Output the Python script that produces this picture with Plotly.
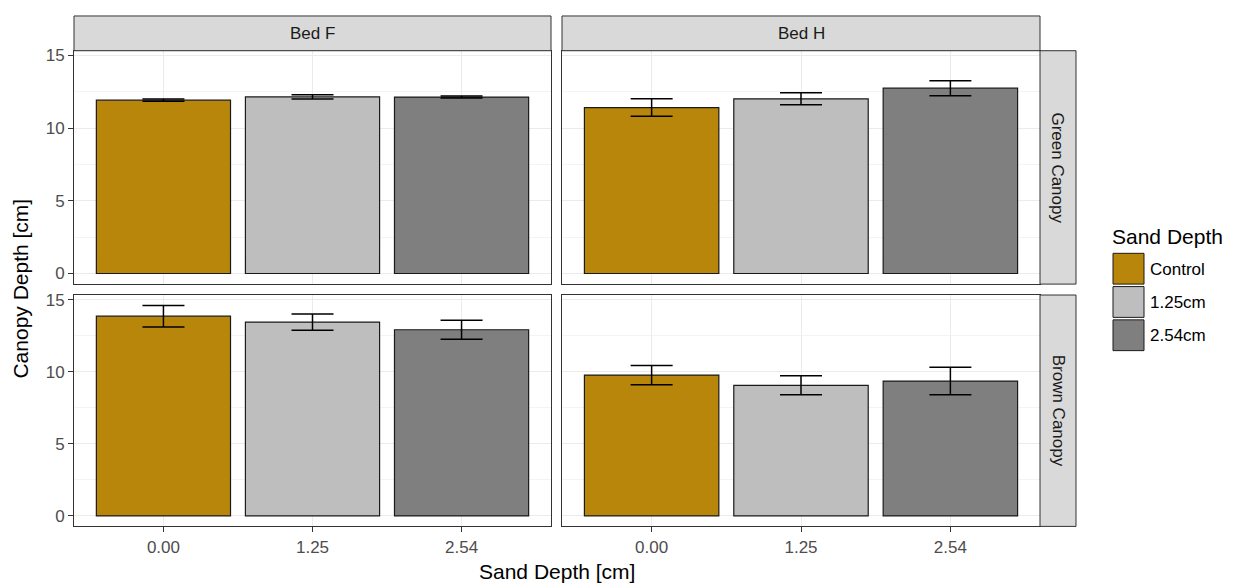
import plotly.graph_objects as go

# ---------------- data ----------------
beds = ["Bed F", "Bed H"]
canopies = ["Green Canopy", "Brown Canopy"]
depth_ticks = ["0.00", "1.25", "2.54"]
legend_labels = ["Control", "1.25cm", "2.54cm"]
fill_colors = ["#B8860B", "#BEBEBE", "#7F7F7F"]

green_bedF_mean = [11.93, 12.15, 12.14]
green_bedF_se = [0.08, 0.15, 0.07]
green_bedH_mean = [11.42, 12.02, 12.75]
green_bedH_se = [0.60, 0.41, 0.52]
brown_bedF_mean = [13.86, 13.45, 12.92]
brown_bedF_se = [0.75, 0.56, 0.66]
brown_bedH_mean = [9.77, 9.06, 9.36]
brown_bedH_se = [0.66, 0.66, 0.96]

y_ticks = [0, 5, 10, 15]

panels = {
    ("Green Canopy", "Bed F"): (green_bedF_mean, green_bedF_se),
    ("Green Canopy", "Bed H"): (green_bedH_mean, green_bedH_se),
    ("Brown Canopy", "Bed F"): (brown_bedF_mean, brown_bedF_se),
    ("Brown Canopy", "Bed H"): (brown_bedH_mean, brown_bedH_se),
}

# ---------------- layout geometry (screen pixels) ----------------
OFF = 8  # default page body margin
W, H = 1236 - OFF, 584 - OFF
col_px = [(74, 551), (562, 1040)]
row_px = [(47, 282), (293, 526)]
strip_top_px = (12, 47)
strip_right_px = (1040, 1076)

def px_x(x):
    return (x - OFF) / W

def px_y(y):
    return 1 - (y - OFF) / H

FONT = "Liberation Sans, Arial, sans-serif"

fig = go.Figure()
layout = dict(
    width=W, height=H,
    margin=dict(l=0, r=0, t=0, b=0),
    paper_bgcolor="white", plot_bgcolor="white",
    showlegend=False,
    font=dict(family=FONT, color="#1A1A1A"),
)

shapes = []
annotations = []
yrange = [-0.73, 15.33]
idx = 0
for r, can in enumerate(canopies):
    for c, bed in enumerate(beds):
        idx += 1
        xa = "x" if idx == 1 else f"x{idx}"
        ya = "y" if idx == 1 else f"y{idx}"
        xk = "xaxis" if idx == 1 else f"xaxis{idx}"
        yk = "yaxis" if idx == 1 else f"yaxis{idx}"
        means, ses = panels[(can, bed)]
        fig.add_trace(go.Bar(
            x=depth_ticks, y=means, xaxis=xa, yaxis=ya,
            width=0.9,
            marker=dict(color=fill_colors, line=dict(color="#1A1A1A", width=1.2)),
            error_y=dict(type="data", array=ses, visible=True,
                         color="black", thickness=1.5, width=21),
            hoverinfo="x+y",
        ))
        x0, x1 = col_px[c]
        y0, y1 = row_px[r]
        bottom = (r == len(canopies) - 1)
        left = (c == 0)
        layout[xk] = dict(
            domain=[px_x(x0), px_x(x1)],
            anchor=ya,
            type="category",
            range=[-0.6, 2.6],
            showgrid=True, gridcolor="#EBEBEB", gridwidth=1,
            showline=True, linecolor="#333333", linewidth=1, mirror=True,
            ticks="outside" if bottom else "", ticklen=5, tickcolor="#333333",
            showticklabels=bottom,
            tickfont=dict(size=17, color="#4D4D4D"),
            zeroline=False, fixedrange=True,
        )
        layout[yk] = dict(
            domain=[px_y(y1), px_y(y0)],
            anchor=xa,
            range=yrange,
            tickvals=y_ticks,
            showgrid=True, gridcolor="#EBEBEB", gridwidth=1,
            minor=dict(dtick=2.5, tick0=0, showgrid=True, gridcolor="#F4F4F4", gridwidth=0.6),
            showline=True, linecolor="#333333", linewidth=1, mirror=True,
            ticks="outside" if left else "", ticklen=5, tickcolor="#333333",
            showticklabels=left,
            tickfont=dict(size=17, color="#4D4D4D"),
            zeroline=False, fixedrange=True,
        )

# strips on top (beds)
for c, bed in enumerate(beds):
    x0, x1 = col_px[c]
    shapes.append(dict(type="rect", xref="paper", yref="paper",
                       x0=px_x(x0), x1=px_x(x1),
                       y0=px_y(strip_top_px[1]), y1=px_y(strip_top_px[0]),
                       fillcolor="#D9D9D9", line=dict(color="#333333", width=1)))
    annotations.append(dict(xref="paper", yref="paper",
                            x=px_x((x0 + x1) / 2), y=px_y(sum(strip_top_px) / 2),
                            xanchor="center", yanchor="middle",
                            text=bed, showarrow=False,
                            font=dict(size=17, color="#1A1A1A")))

# strips on right (canopies)
for r, can in enumerate(canopies):
    y0, y1 = row_px[r]
    shapes.append(dict(type="rect", xref="paper", yref="paper",
                       x0=px_x(strip_right_px[0]), x1=px_x(strip_right_px[1]),
                       y0=px_y(y1), y1=px_y(y0),
                       fillcolor="#D9D9D9", line=dict(color="#333333", width=1)))
    annotations.append(dict(xref="paper", yref="paper",
                            x=px_x(sum(strip_right_px) / 2), y=px_y((y0 + y1) / 2),
                            xanchor="center", yanchor="middle",
                            text=can, showarrow=False, textangle=90,
                            font=dict(size=17, color="#1A1A1A")))

# axis titles
annotations.append(dict(xref="paper", yref="paper",
                        x=px_x((col_px[0][0] + col_px[1][1]) / 2), y=px_y(571),
                        xanchor="center", yanchor="middle",
                        text="Sand Depth [cm]", showarrow=False,
                        font=dict(size=21, color="black")))
annotations.append(dict(xref="paper", yref="paper",
                        x=px_x(21), y=px_y((row_px[0][0] + row_px[1][1]) / 2),
                        xanchor="center", yanchor="middle",
                        text="Canopy Depth [cm]", showarrow=False, textangle=-90,
                        font=dict(size=21, color="black")))

# legend (drawn manually)
annotations.append(dict(xref="paper", yref="paper",
                        x=px_x(1110), y=px_y(234), xanchor="left", yanchor="middle",
                        text="Sand Depth", showarrow=False,
                        font=dict(size=21, color="black")))
key_top = 251
key_h = 33.5
for i, (lab, col) in enumerate(zip(legend_labels, fill_colors)):
    ky0 = key_top + i * key_h
    shapes.append(dict(type="rect", xref="paper", yref="paper",
                       x0=px_x(1113), x1=px_x(1144),
                       y0=px_y(ky0 + 31), y1=px_y(ky0),
                       fillcolor=col, line=dict(color="#1A1A1A", width=1)))
    annotations.append(dict(xref="paper", yref="paper",
                            x=px_x(1148), y=px_y(ky0 + 16), xanchor="left", yanchor="middle",
                            text=lab, showarrow=False,
                            font=dict(size=17, color="black")))

layout["shapes"] = shapes
layout["annotations"] = annotations
fig.update_layout(**layout)
fig.write_html("out.html")
